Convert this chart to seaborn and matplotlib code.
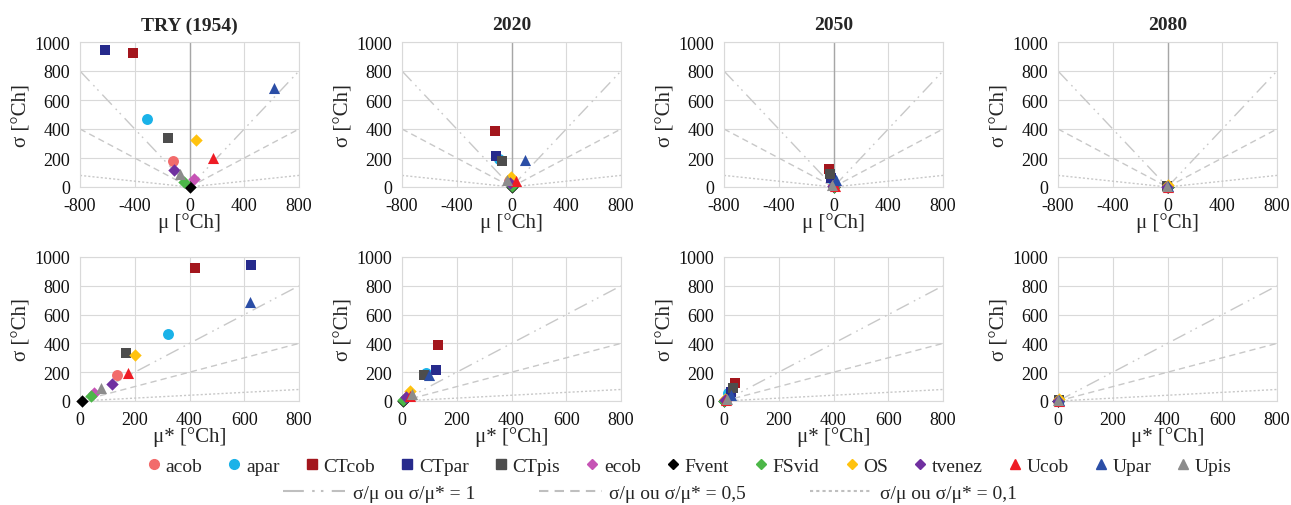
import numpy as np
import pandas as pd
import matplotlib
matplotlib.use("Agg")
import matplotlib.pyplot as plt
from matplotlib.lines import Line2D
import seaborn as sns

sns.set_theme(style="white")
plt.rcParams['font.family'] = ['Liberation Serif', 'DejaVu Serif']
plt.rcParams['axes.unicode_minus'] = False

# ---------------- data ----------------
params = ['acob', 'apar', 'CTcob', 'CTpar', 'CTpis', 'ecob', 'Fvent',
          'FSvid', 'OS', 'tvenez', 'Ucob', 'Upar', 'Upis']
periods = ['TRY (1954)', '2020', '2050', '2080']

mu_try = [-124, -314, -411, -614, -158, 34, 2, -37, 46, -112, 173, 614, -71]
mustar_try = [135, 321, 421, 626, 168, 52, 6, 41, 200, 118, 175, 621, 76]
sigma_try = [180, 467, 923, 942, 335, 58, 2, 32, 322, 117, 197, 686, 92]

mu_2020 = [-20, -90, -117, -114, -70, 5, 5, 0, -4, -10, 30, 95, -35]
mustar_2020 = [25, 89, 132, 124, 80, 10, 3, 5, 30, 15, 28, 97, 35]
sigma_2020 = [40, 192, 388, 215, 180, 15, 2, 5, 72, 30, 38, 183, 50]

mu_2050 = [-5, -10, -32, -15, -25, 2, 1, 0, 3, -3, 8, 20, -8]
mustar_2050 = [6, 15, 40, 25, 33, 3, 1, 1, 5, 4, 8, 25, 10]
sigma_2050 = [10, 55, 125, 60, 90, 4, 1, 2, 12, 6, 10, 45, 15]

mu_2080 = [-1, -2, -4, -3, -3, 0, 0, 0, 1, -1, 2, 3, -1]
mustar_2080 = [1, 3, 5, 4, 4, 0, 0, 0, 2, 1, 2, 4, 1]
sigma_2080 = [2, 5, 10, 7, 8, 1, 0, 0, 15, 1, 3, 6, 4]

ratios = [1, 0.5, 0.1]
ratio_labels = ['σ/μ ou σ/μ* = 1', 'σ/μ ou σ/μ* = 0,5', 'σ/μ ou σ/μ* = 0,1']

# ---------------- styles ----------------
colors = {'acob': '#F26B6B', 'apar': '#1AB2E8', 'CTcob': '#A3161D',
          'CTpar': '#262A8C', 'CTpis': '#4D4D4D', 'ecob': '#C653B5',
          'Fvent': '#000000', 'FSvid': '#4CB748', 'OS': '#FFC20E',
          'tvenez': '#7030A0', 'Ucob': '#EE1C25', 'Upar': '#2B4EA6',
          'Upis': '#8C8C8C'}
markers = {'acob': 'o', 'apar': 'o', 'CTcob': 's', 'CTpar': 's', 'CTpis': 's',
           'ecob': 'D', 'Fvent': 'D', 'FSvid': 'D', 'OS': 'D', 'tvenez': 'D',
           'Ucob': '^', 'Upar': '^', 'Upis': '^'}
msize = {'o': 62, 's': 58, 'D': 40, '^': 64}
ratio_styles = [(0, (10, 4, 1.2, 3, 1.2, 4)), (0, (4.5, 3)), (0, (1.5, 1.5))]
line_color = '#C8C8C8'
grid_color = '#D9D9D9'

frames = []
for per, mu, mus, sg in zip(periods,
                            [mu_try, mu_2020, mu_2050, mu_2080],
                            [mustar_try, mustar_2020, mustar_2050, mustar_2080],
                            [sigma_try, sigma_2020, sigma_2050, sigma_2080]):
    frames.append(pd.DataFrame({'period': per, 'param': params,
                                'mu': mu, 'mustar': mus, 'sigma': sg}))
df = pd.concat(frames, ignore_index=True)

fig = plt.figure(figsize=(12.91, 5.06), dpi=100)
W, H = 1291, 506
lefts = [80, 402, 724, 1058]
aw = 219
top_row = (43, 188)
bot_row = (258, 402)

tick_fs = 13
label_fs = 15


def style_ax(ax):
    for sp in ax.spines.values():
        sp.set_color(grid_color)
        sp.set_linewidth(0.8)
    ax.grid(True, color=grid_color, linewidth=0.8)
    ax.set_axisbelow(True)
    ax.tick_params(length=0, labelsize=tick_fs, pad=7, colors='#111111')


for i, per in enumerate(periods):
    sub = df[df['period'] == per]
    # top row: mu vs sigma
    ax = fig.add_axes([lefts[i] / W, 1 - top_row[1] / H, aw / W,
                       (top_row[1] - top_row[0]) / H])
    style_ax(ax)
    ax.set_xlim(-800, 800)
    ax.set_ylim(0, 1000)
    ax.set_xticks([-800, -400, 0, 400, 800])
    ax.set_yticks(range(0, 1001, 200))
    ax.axvline(0, color='#A6A6A6', linewidth=1.0, zorder=1)
    for r, ls in zip(ratios, ratio_styles):
        ax.axline((0, 0), slope=r, color=line_color, linestyle=ls, linewidth=1.0, zorder=1)
        ax.axline((0, 0), slope=-r, color=line_color, linestyle=ls, linewidth=1.0, zorder=1)
    for p in params:
        d = sub[sub['param'] == p]
        sns.scatterplot(data=d, x='mu', y='sigma', color=colors[p],
                        marker=markers[p], s=msize[markers[p]], linewidth=0,
                        ax=ax, legend=False, clip_on=False, zorder=3)
    ax.set_title(per, fontsize=14, fontweight='bold', pad=9)
    ax.set_xlabel('μ [°Ch]', fontsize=label_fs, labelpad=-1)
    ax.set_ylabel('σ [°Ch]', fontsize=label_fs, labelpad=2)

    # bottom row: mu* vs sigma
    ax = fig.add_axes([lefts[i] / W, 1 - bot_row[1] / H, aw / W,
                       (bot_row[1] - bot_row[0]) / H])
    style_ax(ax)
    ax.set_xlim(0, 800)
    ax.set_ylim(0, 1000)
    ax.set_xticks(range(0, 801, 200))
    ax.set_yticks(range(0, 1001, 200))
    for r, ls in zip(ratios, ratio_styles):
        ax.axline((0, 0), slope=r, color=line_color, linestyle=ls, linewidth=1.0, zorder=1)
    for p in params:
        d = sub[sub['param'] == p]
        sns.scatterplot(data=d, x='mustar', y='sigma', color=colors[p],
                        marker=markers[p], s=msize[markers[p]], linewidth=0,
                        ax=ax, legend=False, clip_on=False, zorder=3)
    ax.set_xlabel('μ* [°Ch]', fontsize=label_fs, labelpad=-1)
    ax.set_ylabel('σ [°Ch]', fontsize=label_fs, labelpad=2)

# legends
h1 = [Line2D([], [], linestyle='none', marker=markers[p], color=colors[p],
             markersize=7 if markers[p] != 'D' else 5.5) for p in params]
leg1 = fig.legend(h1, params, ncol=13, loc='center',
                  bbox_to_anchor=(688 / W, 1 - 467 / H), frameon=False,
                  fontsize=14, handletextpad=0.1, columnspacing=1.15,
                  handlelength=1.0)
h2 = [Line2D([], [], color='#BFBFBF', linestyle=ls, linewidth=1.5) for ls in ratio_styles]
leg2 = fig.legend(h2, ratio_labels, ncol=3, loc='center',
                  bbox_to_anchor=(650 / W, 1 - 494 / H), frameon=False,
                  fontsize=14, handletextpad=0.4, columnspacing=3.3,
                  handlelength=3.2)

fig.savefig('out.png', dpi=100)
